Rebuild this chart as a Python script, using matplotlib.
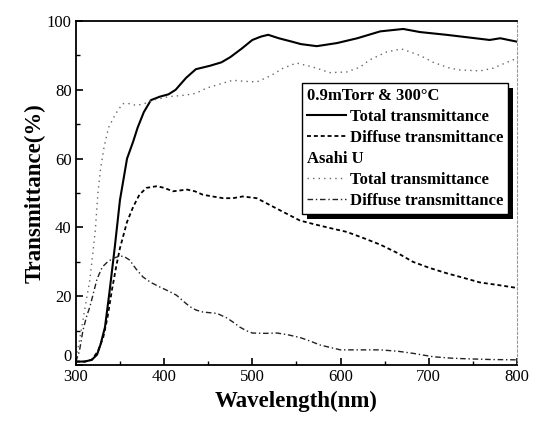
import matplotlib
matplotlib.use("Agg")
import matplotlib.pyplot as plt
from matplotlib.lines import Line2D
from matplotlib.patches import Rectangle
from matplotlib.transforms import IdentityTransform
from matplotlib.ticker import MultipleLocator

plt.rcParams["font.family"] = ["Liberation Serif", "DejaVu Serif"]

# 0.9 mTorr & 300 C film
wl_total = [300, 310, 318, 324, 328, 333, 338, 344, 350, 358, 365, 370, 377, 385, 395,
            405, 413, 425, 436, 452, 465, 475, 488, 500, 510, 518, 530, 545, 555, 573,
            596, 619, 645, 671, 690, 720, 743, 769, 781, 800]
t_total = [1, 1, 1.5, 3, 6, 11, 21, 34, 48, 60, 65, 69, 73.5, 77, 78,
           78.7, 80, 83.5, 86, 87, 88, 89.5, 92, 94.5, 95.5, 96, 95, 94, 93.3, 92.7,
           93.6, 95, 97, 97.7, 96.8, 96, 95.3, 94.5, 95, 94]

wl_diffuse = [300, 310, 318, 325, 331, 336, 341, 346, 350, 358, 365, 372, 380, 392, 400,
              410, 426, 435, 444, 455, 467, 478, 489, 505, 520, 535, 554, 569, 590, 607,
              625, 645, 665, 682, 700, 720, 740, 758, 780, 800]
t_diffuse = [1, 1, 1.5, 4, 8, 14, 22, 29, 34, 41.6, 46, 49.5, 51.5, 52, 51.5,
             50.5, 51, 50.5, 49.5, 49, 48.5, 48.5, 49, 48.5, 46.5, 44.5, 42, 41, 39.7, 38.7,
             37, 35, 32.5, 30, 28.3, 26.7, 25.3, 24, 23.2, 22.4]

# Asahi U reference
wl_asahi_total = [300, 304, 308, 312, 316, 319, 322, 325, 328, 332, 337, 345, 353, 360, 368,
                  376, 387, 405, 425, 436, 448, 465, 478, 490, 505, 520, 535, 550, 569, 588,
                  607, 622, 633, 652, 669, 690, 705, 724, 735, 758, 773, 795, 800]
t_asahi_total = [2, 7, 13, 19, 25, 32, 39, 50, 57, 63.4, 69, 73, 76, 76, 75.5,
                 75.8, 77, 78, 78.5, 79, 80.5, 81.8, 82.8, 82.5, 82.3, 84, 86.3, 87.8, 86.6, 85,
                 85.2, 86.6, 88.7, 91, 91.9, 90, 88, 86.3, 85.8, 85.5, 86.3, 88.7, 89]

wl_asahi_diffuse = [300, 304, 308, 312, 316, 320, 324, 330, 336, 342, 350, 355, 361, 368, 376,
                    385, 395, 405, 414, 422, 429, 436, 444, 452, 460, 471, 478, 486, 493, 500,
                    515, 528, 540, 554, 565, 577, 590, 600, 620, 645, 665, 682, 705, 725, 743,
                    770, 800]
t_asahi_diffuse = [1, 4, 10, 14, 17, 21, 25, 28.5, 30, 31, 31.7, 31.5, 30.5, 28, 25.6,
                   24, 22.7, 21.5, 20.3, 18.5, 17, 16, 15.4, 15.2, 15, 13.7, 12.5, 11, 10, 9.3,
                   9.2, 9.3, 8.8, 8, 7, 5.8, 5, 4.4, 4.4, 4.4, 4, 3.4, 2.4, 2, 1.8,
                   1.6, 1.5]

fig = plt.figure(figsize=(5.38, 4.21), dpi=100)
ax = fig.add_axes([0.141, 0.133, 0.820, 0.817])

l1, = ax.plot(wl_total, t_total, color="black", lw=1.5, ls="-")
l2, = ax.plot(wl_diffuse, t_diffuse, color="black", lw=1.3, ls=(0, (2.2, 1.6)))
l3, = ax.plot(wl_asahi_total, t_asahi_total, color="#666666", lw=1.0, ls=(0, (1, 3)))
l4, = ax.plot(wl_asahi_diffuse, t_asahi_diffuse, color="#222222", lw=1.0, ls=(0, (4, 2, 1, 2)))

ax.set_xlim(300, 800)
ax.set_ylim(0, 100)
ax.xaxis.set_major_locator(MultipleLocator(100))
ax.xaxis.set_minor_locator(MultipleLocator(50))
ax.yaxis.set_major_locator(MultipleLocator(20))
ax.yaxis.set_minor_locator(MultipleLocator(10))
ax.tick_params(which="both", direction="in", top=False, right=False, labelsize=12)
ax.tick_params(axis="x", pad=3)
ax.tick_params(axis="y", pad=3)
ax.tick_params(which="major", length=5, width=1.2)
ax.tick_params(which="minor", length=3, width=1.0)

for side in ["left", "bottom", "top"]:
    ax.spines[side].set_linewidth(1.3)
ax.spines["right"].set_color("#999999")
ax.spines["right"].set_linewidth(0.8)
ax.spines["right"].set_linestyle((0, (2, 2)))

ax.set_xlabel("Wavelength(nm)", fontsize=16.5, fontweight="bold", labelpad=4)
ax.set_ylabel("Transmittance(%)", fontsize=16.5, fontweight="bold", labelpad=1)

blank = Line2D([], [], color="none")
handles = [blank, l1, l2, blank, l3, l4]
labels = ["0.9mTorr & 300°C", "Total transmittance", "Diffuse transmittance",
          "Asahi U", "Total transmittance", "Diffuse transmittance"]
leg = ax.legend(handles, labels, loc="upper right", bbox_to_anchor=(0.98, 0.82),
                borderaxespad=0, fancybox=False, framealpha=1, edgecolor="black",
                prop={"weight": "bold", "size": 12}, handlelength=2.3, handletextpad=0.25,
                labelspacing=0.3, borderpad=0.3)
leg.get_frame().set_linewidth(1.0)
leg.set_zorder(5)

# headers: drop handle space
rows = leg._legend_handle_box.get_children()[0].get_children()
for i in (0, 3):
    rows[i].get_children()[0].width = 0
    rows[i].sep = 0

fig.canvas.draw()
# sit the "0" label just above the axis so it clears the "300" below it
for tk in ax.yaxis.get_major_ticks():
    if abs(tk.get_loc()) < 1e-9:
        tk.label1.set_va("bottom")

bb = leg.get_window_extent()
shadow = Rectangle((bb.x0 + 5, bb.y0 - 5), bb.width, bb.height, transform=IdentityTransform(),
                   facecolor="black", edgecolor="none", zorder=4.5, clip_on=False)
ax.add_artist(shadow)

fig.savefig("out.png", dpi=100)
